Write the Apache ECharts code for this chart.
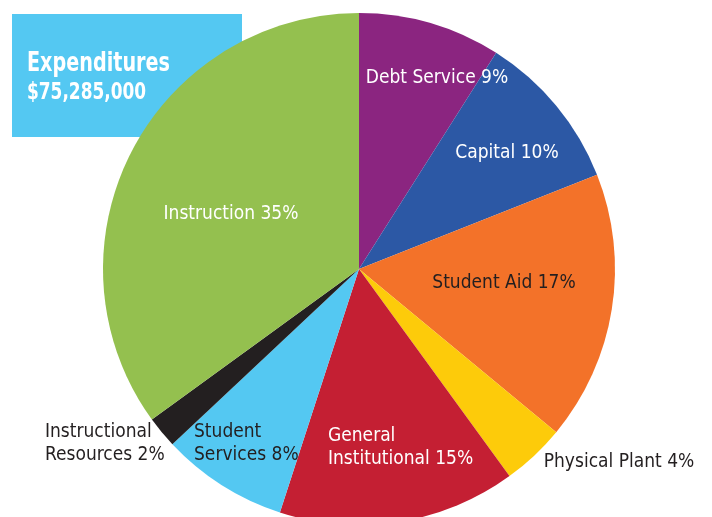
<!DOCTYPE html>
<html>
<head>
<meta charset="utf-8">
<script src="https://cdn.jsdelivr.net/npm/echarts@6/dist/echarts.min.js"></script>
<style>html,body{margin:0;padding:0;background:#fff;}#c{width:712px;height:517px;}</style>
</head>
<body>
<div id="c"></div>
<script>
// ---- data ----
const categories = ['Debt Service', 'Capital', 'Student Aid', 'Physical Plant', 'General\nInstitutional', 'Student\nServices', 'Instructional\nResources', 'Instruction'];
const percents = [9, 10, 17, 4, 15, 8, 2, 35];
const titleText = 'Expenditures';
const totalText = '$75,285,000';

// ---- styles ----
const colors = ['#8B2580', '#2C58A5', '#F37229', '#FDCB0A', '#C41F33', '#54C8F2', '#231F20', '#94C04F'];
const labelColors = ['#fff', '#fff', '#231F20', '#231F20', '#fff', '#231F20', '#231F20', '#fff'];
const labelPos = [
  {x: 437, y: 78, align: 'center'},
  {x: 507, y: 153, align: 'center'},
  {x: 504, y: 283, align: 'center'},
  {x: 619, y: 462, align: 'center'},
  {x: 328, y: 448, align: 'left'},
  {x: 194, y: 444, align: 'left'},
  {x: 45, y: 444, align: 'left'}, 
  {x: 231, y: 214, align: 'center'}
];
const FONT = "'DejaVu Sans Condensed', 'Liberation Sans Narrow', sans-serif";

const chart = echarts.init(document.getElementById('c'), null, {renderer: 'canvas'});
chart.setOption({
  animation: false,
  graphic: [
    {type: 'rect', z: -10, shape: {x: 12, y: 14, width: 230, height: 123}, style: {fill: '#54C8F2'}},
    {type: 'text', z: 100, x: 27, y: 50, scaleX: 0.79, style: {text: titleText, fill: '#fff', font: "bold 27px " + FONT, textVerticalAlign: 'alphabetic'}},
    {type: 'text', z: 100, x: 27, y: 82, scaleX: 0.82, style: {text: totalText, fill: '#fff', font: "bold 23px " + FONT, textVerticalAlign: 'alphabetic'}}
  ],
  series: [{
    type: 'pie',
    z: 2,
    center: [359, 269],
    radius: [0, 256],
    startAngle: 90,
    clockwise: true,
    avoidLabelOverlap: false,
    labelLine: {show: false},
    data: categories.map((name, i) => ({
      name: name,
      value: percents[i],
      itemStyle: {color: colors[i], borderWidth: 0},
      label: {
        show: true,
        position: 'inside',
        formatter: name + ' ' + percents[i] + '%',
        color: labelColors[i],
        fontFamily: FONT,
        fontSize: 19,
        lineHeight: 23,
        align: labelPos[i].align
      }
    })),
    labelLayout: function (p) {
      const lp = labelPos[p.dataIndex];
      return {x: lp.x, y: lp.y, align: lp.align, verticalAlign: 'middle'};
    },
    emphasis: {disabled: true}
  }]
});
</script>
</body>
</html>
